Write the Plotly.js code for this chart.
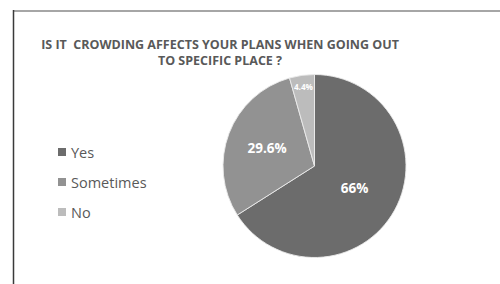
<!DOCTYPE html>
<html>
<head>
<meta charset="utf-8">
<script src="https://cdn.plot.ly/plotly-3.0.1.min.js"></script>
<style>html,body{margin:0;padding:0;background:#fff;}#chart{width:500px;height:284px;}</style>
</head>
<body>
<div id="chart"></div>
<script>
var categories = ["Yes", "Sometimes", "No"];
var shares = [66, 29.6, 4.4];
var shareLabels = ["66%", "29.6%", "4.4%"];
var sliceColors = ["#6c6c6c", "#929292", "#bcbcbc"];
var chartTitle = "IS IT\u00a0 CROWDING AFFECTS YOUR PLANS WHEN GOING OUT<br>TO SPECIFIC PLACE ?";

var W = 500, H = 284;
var cx = 314.5, cy = 166, r = 91.5;

var trace = {
  type: "pie",
  labels: categories,
  values: shares,
  text: shareLabels,
  textinfo: "text",
  textposition: "inside",
  insidetextorientation: "horizontal",
  sort: false,
  direction: "clockwise",
  rotation: 0,
  showlegend: false,
  hoverinfo: "none",
  marker: {colors: sliceColors, line: {color: "rgba(235,235,235,0.9)", width: 1}},
  insidetextfont: {family: "Open Sans", size: [13.5, 13.5, 11], color: "#ffffff", weight: "bold"},
  domain: {x: [(cx - r) / W, (cx + r) / W], y: [(H - cy - r) / H, (H - cy + r) / H]}
};

var shapes = [
  {type: "line", xref: "paper", yref: "paper", x0: 13 / W, x1: 1, y0: 1 - 11 / H, y1: 1 - 11 / H, line: {color: "#a6a6a6", width: 2}},
  {type: "line", xref: "paper", yref: "paper", x0: 13.5 / W, x1: 13.5 / W, y0: 0, y1: 1 - 10 / H, line: {color: "#3a3a3a", width: 1.5}}
];
var annotations = [];
var legX = 58, legY0 = 152, legStep = 30, sq = 8;
categories.forEach(function (c, i) {
  var y = legY0 + i * legStep;
  shapes.push({type: "rect", xref: "paper", yref: "paper",
    x0: legX / W, x1: (legX + sq) / W, y0: 1 - (y + sq / 2) / H, y1: 1 - (y - sq / 2) / H,
    fillcolor: sliceColors[i], line: {width: 0}});
  annotations.push({xref: "paper", yref: "paper", x: (legX + sq + 3) / W, y: 1 - y / H,
    xanchor: "left", yanchor: "middle", showarrow: false, text: c,
    font: {family: "Open Sans", size: 14.5, color: "#595959"}});
});

var layout = {
  width: W, height: H,
  margin: {l: 0, r: 0, t: 0, b: 0},
  paper_bgcolor: "#ffffff",
  plot_bgcolor: "#ffffff",
  title: {text: chartTitle, x: 220 / W, xanchor: "center", xref: "paper",
    y: 1 - 49 / H, yanchor: "top", yref: "container",
    font: {family: "Open Sans", size: 12.5, color: "#595959", weight: "bold"}},
  shapes: shapes,
  annotations: annotations,
  showlegend: false
};

Plotly.newPlot("chart", [trace], layout, {displayModeBar: false, staticPlot: true});
</script>
</body>
</html>
